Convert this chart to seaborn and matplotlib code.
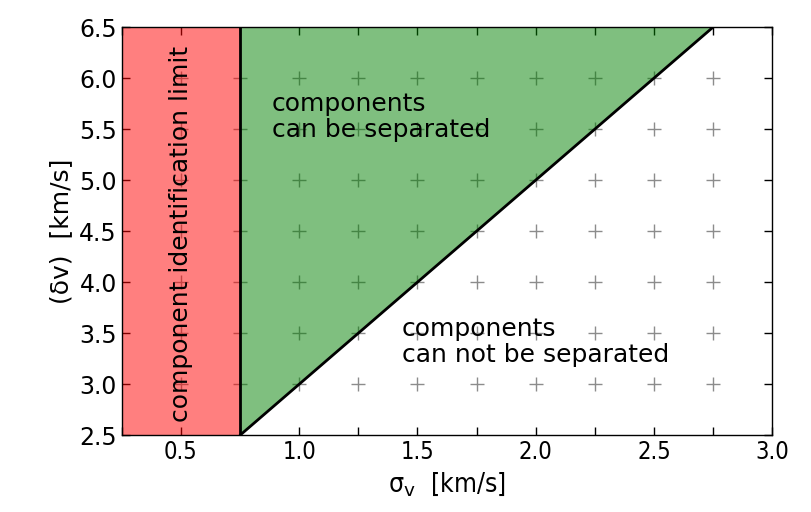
import numpy as np
import pandas as pd
import seaborn as sns
import matplotlib.pyplot as plt

# grid of simulated cases
sigma_vals = [0.5, 0.75, 1.0, 1.25, 1.5, 1.75, 2.0, 2.25, 2.5, 2.75]
dv_vals = [3.0, 3.5, 4.0, 4.5, 5.0, 5.5, 6.0]

# boundaries
ident_limit = 0.75
sep_line_x = [0.75, 2.75]
sep_line_y = [2.5, 6.5]

sns.set_style('ticks')
plt.rcParams['font.family'] = ['DejaVu Sans']
plt.rcParams['text.color'] = 'k'
plt.rcParams['axes.labelcolor'] = 'k'
plt.rcParams['xtick.direction'] = 'in'
plt.rcParams['ytick.direction'] = 'in'
plt.rcParams['xtick.top'] = True
plt.rcParams['ytick.right'] = True

grid = pd.DataFrame([(s, d) for s in sigma_vals for d in dv_vals], columns=['sigma', 'dv'])

fig = plt.figure(figsize=(8.12, 5.12), dpi=100)
ax = fig.add_axes([0.150, 0.150, 0.801, 0.797])

sns.scatterplot(data=grid, x='sigma', y='dv', marker='+', s=90, color='k', alpha=0.45,
                linewidth=1, ax=ax, zorder=1)

ax.axvspan(0.25, ident_limit, color='red', alpha=0.5, lw=0, zorder=2)
ax.fill_between(sep_line_x, sep_line_y, [6.5, 6.5], color='green', alpha=0.5, lw=0, zorder=2)

ax.axvline(ident_limit, color='k', lw=2, zorder=3)
sns.lineplot(x=sep_line_x, y=sep_line_y, color='k', lw=2, ax=ax, zorder=3)

ax.text(0.5, 4.47, 'component identification limit', rotation=90, ha='center', va='center', fontsize=18)
ax.text(0.885, 5.62, 'components\ncan be separated', ha='left', va='center', fontsize=18, linespacing=1.1)
ax.text(1.435, 3.41, 'components\ncan not be separated', ha='left', va='center', fontsize=18, linespacing=1.1)

ax.set_xlim(0.25, 3.0)
ax.set_ylim(2.5, 6.5)
ax.set_xticks(np.arange(0.5, 3.01, 0.5))
ax.set_xticks(np.arange(0.25, 3.01, 0.25), minor=True)
ax.set_yticks(np.arange(2.5, 6.51, 0.5))
ax.tick_params(which='both', length=6, width=1, colors='k')
ax.tick_params(which='major', labelsize=17)
for lab in ax.get_xticklabels():
    lab.set_fontstretch('condensed')

ax.set_xlabel(r'σ$_\mathrm{v}$  [km/s]', fontsize=19, fontstretch='condensed')
ax.set_ylabel('(δv)  [km/s]', fontsize=18)
for sp in ax.spines.values():
    sp.set_color('k')
    sp.set_linewidth(1)

fig.savefig('out.png', dpi=100)
